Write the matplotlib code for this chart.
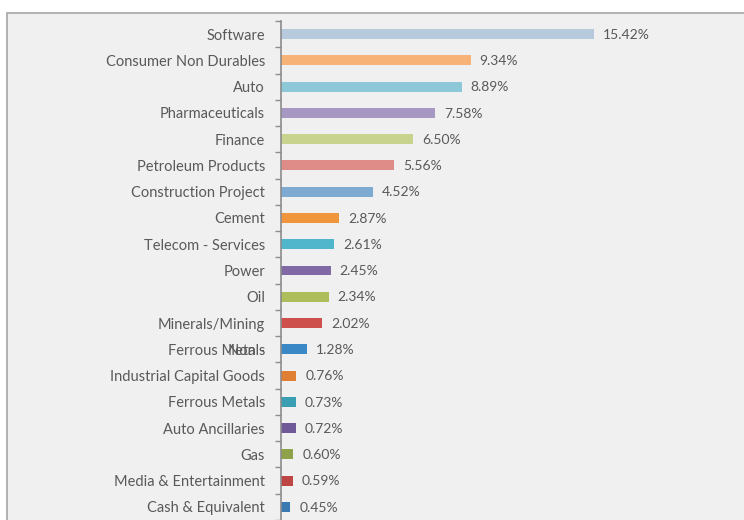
import matplotlib

matplotlib.use("Agg")
import matplotlib.pyplot as plt
from matplotlib.patches import Rectangle
import numpy as np

plt.rcParams["font.family"] = ["Lato", "DejaVu Sans"]

sectors = [
    "Software", "Consumer Non Durables", "Auto", "Pharmaceuticals", "Finance",
    "Petroleum Products", "Construction Project", "Cement", "Telecom - Services",
    "Power", "Oil", "Minerals/Mining", "Ferrous Metals", "Industrial Capital Goods",
    "Ferrous Metals", "Auto Ancillaries", "Gas", "Media & Entertainment",
    "Cash & Equivalent",
]
weights = [15.42, 9.34, 8.89, 7.58, 6.50, 5.56, 4.52, 2.87, 2.61, 2.45, 2.34,
           2.02, 1.28, 0.76, 0.73, 0.72, 0.60, 0.59, 0.45]
colors = [
    "#b7c9dc", "#f7b377", "#8cc8d8", "#a697c3", "#c8d38e", "#df8b88", "#7eaad2",
    "#f0953b", "#4fb6cc", "#8169a5", "#adbe5a", "#cd504c", "#3b88c6", "#e07f32",
    "#3a9fb3", "#6f5998", "#8ea24a", "#bd4544", "#3a78b2",
]
overlap_label = "Non -"   # second label drawn on top of the 13th row in the source

fig = plt.figure(figsize=(7.44, 5.2), dpi=100)
fig.patch.set_facecolor("white")
fig.patches.append(Rectangle((7 / 744, -0.05), 1.0, 1 - 13 / 520 + 0.05,
                             transform=fig.transFigure, facecolor="#f0f0f0",
                             edgecolor="#a6a6a6", linewidth=1.2, zorder=-5))

ax = fig.add_axes([281 / 744, 0.0, 1 - 281 / 744, 1 - 21 / 520])
ax.set_facecolor("none")

y = np.arange(len(sectors))[::-1]
ax.barh(y, weights, height=0.38, color=colors, zorder=2)
ax.set_ylim(-0.5, len(sectors) - 0.5)
ax.set_xlim(0, 22.8)

for yi, w in zip(y, weights):
    ax.annotate(f"{w:.2f}%", xy=(w, yi), xytext=(6.5, -0.5), textcoords="offset points",
                ha="left", va="center", fontsize=10, color="#595959")

ax.set_yticks(y)
ax.set_yticklabels(sectors, fontsize=10.5, color="#595959")
ax.tick_params(axis="y", which="major", length=0, pad=11.5)
ax.set_yticks(np.arange(-0.5, len(sectors)), minor=True)
ax.tick_params(axis="y", which="minor", length=4.5, width=1, color="#8c8c8c")
ax.set_xticks([])
for side in ["top", "right", "bottom"]:
    ax.spines[side].set_visible(False)
ax.spines["left"].set_color("#8c8c8c")
ax.spines["left"].set_linewidth(1.2)

ax.annotate(overlap_label, xy=(0, y[12]), xycoords=("axes fraction", "data"),
            xytext=(-11.5, 0), textcoords="offset points", ha="right",
            va="center_baseline", fontsize=10.5, color="#595959",
            annotation_clip=False)

fig.savefig("out.png", dpi=100)
plt.close("all")
